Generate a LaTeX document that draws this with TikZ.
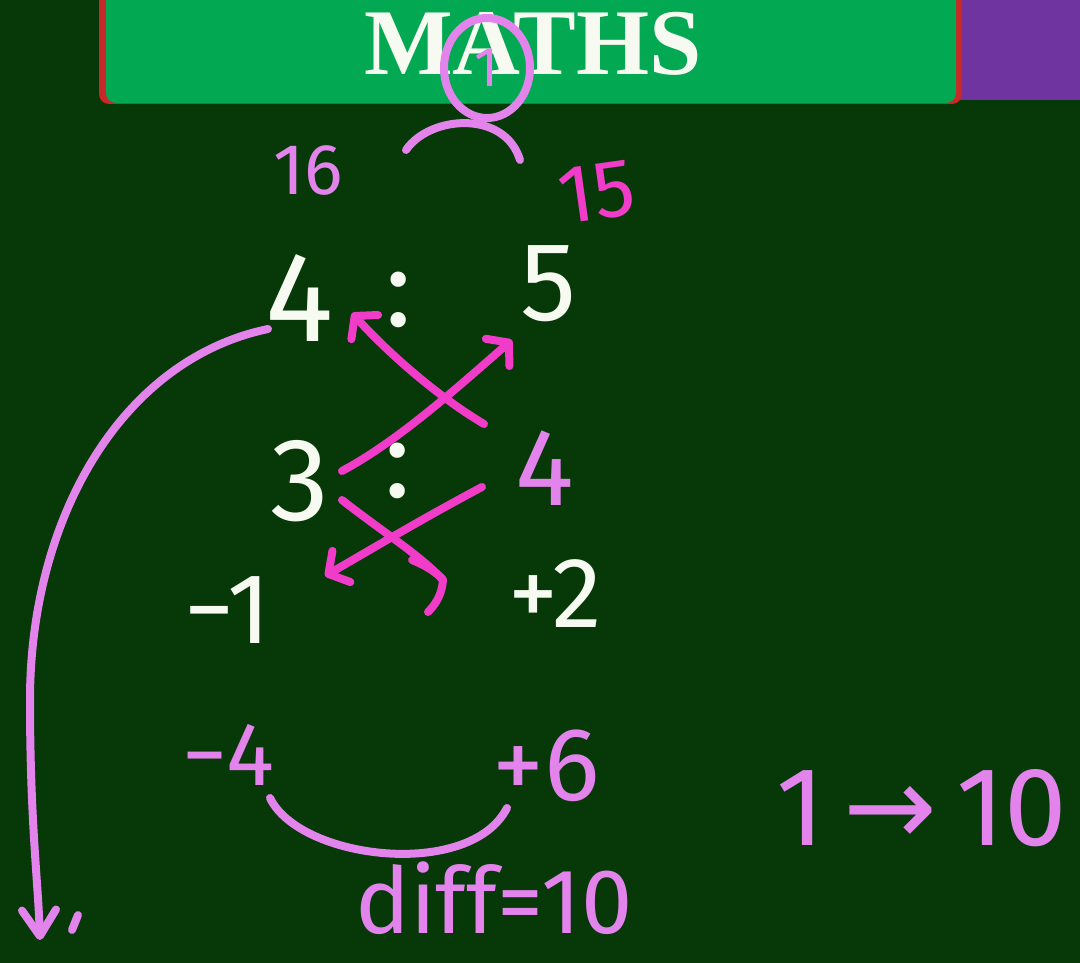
\documentclass[tikz,border=0pt]{standalone}
\usepackage{fontspec}
\setmainfont{Fira Sans}
\newfontfamily\titlefont{Liberation Serif}
\newfontfamily\arrowfont{DejaVu Sans}
\usetikzlibrary{arrows.meta,shapes.geometric}
\definecolor{board}{RGB}{6,56,8}
\definecolor{banner}{RGB}{2,168,82}
\definecolor{bannerpurple}{RGB}{112,52,160}
\definecolor{chalkred}{RGB}{200,40,40}
\definecolor{violet}{RGB}{226,132,236}
\definecolor{mag}{RGB}{240,60,200}
\definecolor{chalk}{RGB}{246,250,240}
\tikzset{
  txt/.style={inner sep=0pt, outer sep=0pt},
  hand/.style={line width=8pt, line cap=round, line join=round},
  barb/.style={-{Straight Barb[length=15pt,width=36pt,round]}},
}
\newcommand{\fs}[1]{\fontsize{#1}{#1}\selectfont}
\newcommand{\mn}{\char"2212\relax}
\begin{document}
\begin{tikzpicture}[x=1pt,y=-1pt]
\useasboundingbox (0,0) rectangle (1080,963);
\clip (0,0) rectangle (1080,963);
\fill[board] (0,0) rectangle (1080,963);
% banner
\fill[bannerpurple] (955,-10) rectangle (1090,100);
\fill[chalkred, rounded corners=10pt] (99,-20) rectangle (962,104);
\fill[banner, rounded corners=10pt] (106,-20) rectangle (956,103);
\node[txt, text=chalk, font=\titlefont\bfseries\fs{94}] (title) at (533,44) {MATHS};
% circled 1
\node[txt, draw=violet, line width=8pt, ellipse, minimum width=86pt, minimum height=100pt, text=violet, font=\fs{56}] (one) at (487,68) {1};
\coordinate (qa) at (406,150);
\coordinate (qb) at (520,160);
\draw[hand, violet] (qa) .. controls (430,115) and (505,110) .. (qb);
% top labels
\node[txt, text=violet, font=\fs{72}] (sixteen) at (308,170) {16};
\node[txt, text=mag, font=\fs{82}, rotate=8] (fifteen) at (597,192) {15};
% rows
\node[txt, text=chalk, font=\fs{128}] (fourA) at (300,298) {4};
\node[txt, text=chalk, font=\fs{110}] (colA) at (399,300) {:};
\node[txt, text=chalk, font=\fs{112}] (five) at (549,284) {5};
\node[txt, text=chalk, font=\fs{118}] (three) at (300,481) {3};
\node[txt, text=chalk, font=\fs{110}] (colB) at (398,471) {:};
\node[txt, text=violet, font=\fs{110}] (fourB) at (545,468) {4};
\node[txt, text=chalk, font=\fs{100}] (minusone) at (228,610) {\mn1};
\node[txt, text=chalk, font=\fs{100}] (plustwo) at (555,594) {+2};
% magenta cross arrows
\coordinate (a1) at (484,424);
\coordinate (a2) at (352,313);
\coordinate (b1) at (342,471);
\coordinate (b2) at (512,340);
\coordinate (c1) at (482,487);
\coordinate (c2) at (325,576);
\coordinate (d1) at (342,500);
\coordinate (d2) at (443,580);
\draw[hand, mag, barb] (a1) .. controls (440,398) and (390,355) .. (a2);
\draw[hand, mag, barb] (b1) .. controls (400,440) and (460,385) .. (b2);
\draw[hand, mag, barb] (c1) .. controls (420,520) and (370,550) .. (c2);
\draw[hand, mag] (d1) .. controls (380,530) and (420,555) .. (d2);
\coordinate (d3) at (428,612);
\coordinate (d4) at (412,560);
\draw[hand, mag] (d4) .. controls (432,568) and (442,578) .. (d2) .. controls (442,595) and (435,605) .. (d3);
% long violet arrow
\coordinate (l1) at (268,329);
\coordinate (l2) at (40,940);
\draw[hand, violet, -{Straight Barb[length=26pt,width=34pt,round]}] (l1) .. controls (120,360) and (30,520) .. (30,700) .. controls (30,820) and (38,880) .. (l2);
\coordinate (cm1) at (78,915);
\coordinate (cm2) at (72,930);
\draw[hand, violet] (cm1) -- (cm2);
% bottom
\node[txt, text=violet, font=\fs{90}] (minusfour) at (228,755) {\mn4};
\node[txt, text=violet, font=\fs{104}] (plussix) at (546,766) {+6};
\coordinate (u1) at (270,798);
\coordinate (u2) at (507,808);
\draw[hand, violet] (u1) .. controls (300,860) and (470,880) .. (u2);
\node[txt, text=violet, font=\fs{92}] (diff) at (494,898) {diff=10};
\node[txt, text=violet, font=\fs{112}] (oneten) at (922,808) {1\,\arrowfont→\,\rmfamily10};
\end{tikzpicture}
\end{document}
